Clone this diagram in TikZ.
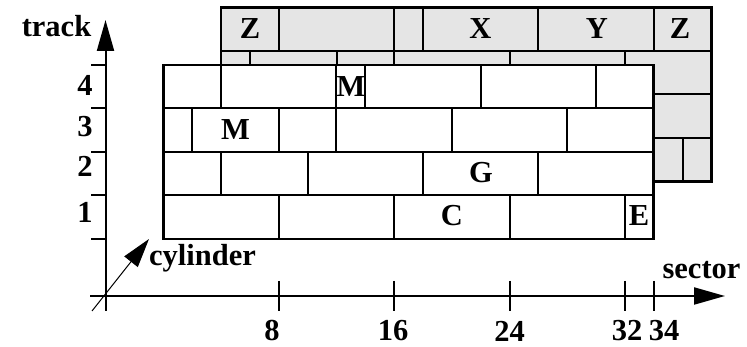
\documentclass[tikz,border=0pt]{standalone}
\usepackage{fontspec}
\setmainfont{Liberation Serif}
\usetikzlibrary{arrows.meta}
\definecolor{backgray}{RGB}{229,229,229}
\tikzset{
  lbl/.style={font=\bfseries\fontsize{30.5}{36}\selectfont, inner sep=0pt},
  outerline/.style={line width=2.6pt},
  innerline/.style={line width=2pt},
  axisline/.style={line width=2pt, -{Triangle[length=31pt,width=17pt]}},
  tickline/.style={line width=2pt},
  cylarrow/.style={line width=1pt, -{Triangle[length=29pt,width=17pt]}}
}
\begin{document}
\begin{tikzpicture}[x=1pt,y=-1pt]
\useasboundingbox (0,0) rectangle (747,347);
% ---------- back (gray) surface ----------
\fill[backgray] (221.1,7.5) rectangle (711.4,181.5);
\foreach \yy in {51,94.5,138} \draw[innerline] (221.1,\yy) -- (711.4,\yy);
\foreach \xx in {278.8,394.1,423,538.3,653.7} \draw[innerline] (\xx,7.5) -- (\xx,51);
\foreach \xx in {250,336.5,394.1,509.5,624.8} \draw[innerline] (\xx,51) -- (\xx,94.5);
\draw[innerline] (682.5,138) -- (682.5,181.5);
\draw[outerline] (221.1,7.5) rectangle (711.4,181.5);
\node[lbl] (bz1) at (250,29) {Z};
\node[lbl] (bx) at (480.5,29) {X};
\node[lbl] (by) at (597,29) {Y};
\node[lbl] (bz2) at (680,29) {Z};
% ---------- front (white) surface ----------
\fill[white] (163.4,65) rectangle (653.7,239);
\foreach \yy in {108.5,152,195.5} \draw[innerline] (163.4,\yy) -- (653.7,\yy);
\foreach \xx in {221.1,336.4,365.3,480.6,596.0} \draw[innerline] (\xx,65) -- (\xx,108.5);
\foreach \xx in {192.2,278.8,336.4,451.8,567.2} \draw[innerline] (\xx,108.5) -- (\xx,152);
\foreach \xx in {221.1,307.6,423.0,538.3} \draw[innerline] (\xx,152) -- (\xx,195.5);
\foreach \xx in {278.8,394.1,509.5,624.8} \draw[innerline] (\xx,195.5) -- (\xx,239);
\draw[outerline] (163.4,65) rectangle (653.7,239);
\node[lbl] (fm4) at (351,87) {M};
\node[lbl] (fm3) at (235.5,129.7) {M};
\node[lbl] (fg) at (481,173) {G};
\node[lbl] (fc) at (452,215.5) {C};
\node[lbl] (fe) at (639,215.5) {E};
% ---------- axes ----------
\coordinate (ybot) at (105.5,311);
\coordinate (ytop) at (105.5,20);
\coordinate (xleft) at (90,296);
\coordinate (xright) at (725,296);
\draw[axisline] (ybot) -- (ytop);
\draw[axisline] (xleft) -- (xright);
\foreach \yy in {65,108.5,152,195.5,239} \draw[tickline] (91,\yy) -- (105.5,\yy);
\foreach \xx in {278.8,394.1,509.5,624.8,653.7} \draw[tickline] (\xx,281) -- (\xx,311);
\coordinate (cyl0) at (92,311);
\coordinate (cyl1) at (149,239);
\draw[cylarrow] (cyl0) -- (cyl1);
% ---------- axis labels ----------
\node[lbl, anchor=base] (track) at (56.5,36.5) {track};
\node[lbl, anchor=base] (sector) at (701.5,278.5) {sector};
\node[lbl, anchor=base west] (cylinder) at (149,265.5) {cylinder};
\node[lbl] (t4) at (85,85) {4};
\node[lbl] (t3) at (85,126.3) {3};
\node[lbl] (t2) at (85,166) {2};
\node[lbl] (t1) at (85,212.5) {1};
\node[lbl] (s8) at (272,331) {8};
\node[lbl] (s16) at (393,331) {16};
\node[lbl] (s24) at (509.5,331) {24};
\node[lbl] (s32) at (627,331) {32};
\node[lbl] (s34) at (664,331) {34};
\end{tikzpicture}
\end{document}
